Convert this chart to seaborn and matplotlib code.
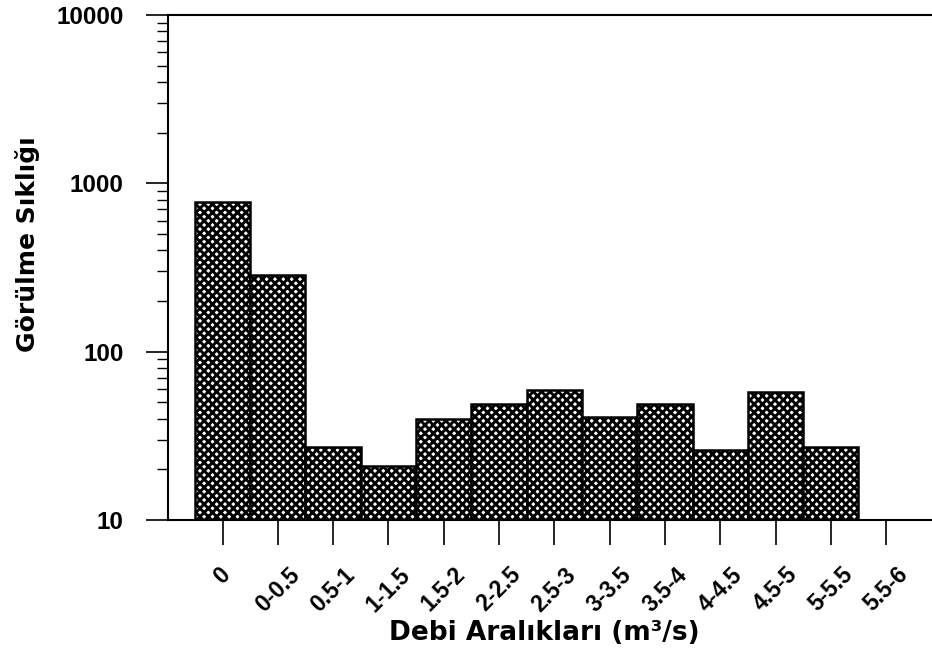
import matplotlib
matplotlib.use("Agg")
import matplotlib.pyplot as plt
from matplotlib import font_manager
import seaborn as sns
import pandas as pd
from matplotlib.ticker import LogLocator, NullFormatter, FixedLocator

# Flow-rate classes (m3/s) and how often each occurred
categories = ["0", "0-0.5", "0.5-1", "1-1.5", "1.5-2", "2-2.5", "2.5-3",
              "3-3.5", "3.5-4", "4-4.5", "4.5-5", "5-5.5", "5.5-6"]
frequency = [780, 285, 27, 21, 40, 49, 59, 41, 49, 26, 58, 27, 0]
y_ticks = [10, 100, 1000, 10000]
y_tick_labels = ["10", "100", "1000", "10000"]

sns.set_style("ticks")
plt.rcParams["font.family"] = ["Liberation Sans", "DejaVu Sans"]
plt.rcParams["font.weight"] = "bold"
for key in ["text.color", "axes.labelcolor", "xtick.color", "ytick.color",
            "axes.edgecolor"]:
    plt.rcParams[key] = "black"
plt.rcParams["hatch.linewidth"] = 2.1
plt.rcParams["hatch.color"] = "black"


def bold_sans(size):
    """Regular-width Liberation Sans Bold (not the Narrow cut), if present."""
    for entry in font_manager.fontManager.ttflist:
        fname = entry.fname.replace("\\", "/").split("/")[-1]
        if fname.lower() == "liberationsans-bold.ttf":
            return font_manager.FontProperties(fname=entry.fname, size=size)
    return font_manager.FontProperties(family="DejaVu Sans", weight="bold",
                                       size=size)


df = pd.DataFrame({"aralik": categories, "siklik": frequency})

fig = plt.figure(figsize=(9.32, 6.65), dpi=100)
ax = fig.add_axes([0.1803, 0.218, 0.8197, 0.7594])

sns.barplot(data=df, x="aralik", y="siklik", order=categories, ax=ax,
            width=1.0, color="white", edgecolor="black", linewidth=1.8,
            hatch="xxxx", errorbar=None, saturation=1)

ax.set_yscale("log")
ax.set_ylim(10, 10000)
ax.set_xlim(-0.985, 12.83)

ax.yaxis.set_major_locator(FixedLocator(y_ticks))
ax.set_yticklabels(y_tick_labels, fontproperties=bold_sans(17.5))
ax.yaxis.set_minor_locator(LogLocator(base=10, subs=range(2, 10)))
ax.yaxis.set_minor_formatter(NullFormatter())

ax.tick_params(axis="y", which="major", direction="out", length=16, width=1.2, pad=16)
ax.tick_params(axis="y", which="minor", direction="out", length=8, width=1.0)
ax.tick_params(axis="x", which="major", direction="out", length=18, width=1.2, pad=13)

ax.set_xticks(range(len(categories)))
ax.set_xticklabels(categories, rotation=45, ha="center", va="top",
                   fontproperties=bold_sans(16.5))

for side in ["left", "bottom", "top"]:
    ax.spines[side].set_visible(True)
    ax.spines[side].set_linewidth(1.5)
    ax.spines[side].set_color("black")
ax.spines["right"].set_visible(False)

label_font = ["DejaVu Sans", "Liberation Sans"]
ax.set_xlabel("Debi Aralıkları (m³/s)", fontsize=19, fontweight="bold",
              family=label_font)
ax.set_ylabel("Görülme Sıklığı", fontsize=18, fontweight="bold",
              family=label_font)
ax.xaxis.set_label_coords(0.492, -0.197)
ax.yaxis.set_label_coords(-0.1675, 0.547)

fig.savefig("out.png", dpi=100, facecolor="white")
